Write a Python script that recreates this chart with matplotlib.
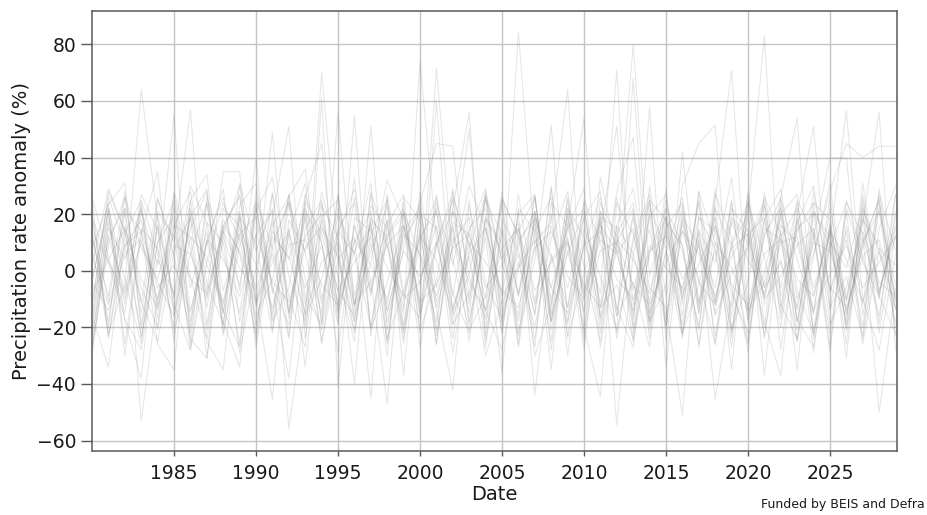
import matplotlib
matplotlib.use('Agg')
import matplotlib.pyplot as plt
import numpy as np

# years 1980..2029, one value per year for each ensemble member
years = np.arange(1980, 2030)

s01 = [8, -22, -5, 64, 18, -12, -28, 3, 24, 11,
       -16, -3, 27, -9, -19, 14, 6, 31, -24, -7,
       12, 21, -14, 5, -30, -11, 84.5, 9, -18, 22,
       2, -25, 16, 29, -6, -13, -51, 19, 8, -21,
       -4, 26, 13, -17, -27, 10, 1, 23, -8, 15]
s02 = [-12, 26, 9, -23, 4, -8, 30, 17, -14, -27,
       21, 33, -2, -18, 70, 7, -21, 13, 25, -10,
       -4, 16, -29, 8, 27, -15, 3, -20, 11, 28,
       -7, 19, -54.5, 6, 24, -19, 14, -3, -26, 9,
       20, 83, -12, -24, 5, 31, -16, 12, -9, -22]
s03 = [19, 3, -17, -28, 10, 25, -6, 14, -20, 31,
       7, 22, -56, -13, 18, -2, -25, 28, 9, -15,
       74, 11, -19, -8, 26, 4, 17, -30, -12, 20,
       -23, 33, 6, 15, -18, -5, 23, -27, 10, 1,
       -14, 18, 29, -7, -22, 8, 24, 13, -50, -6]
s04 = [-27, 12, 22, -53, -9, 16, 28, -4, -19, 20,
       -11, 6, -24, 25, 13, -7, -16, 3, 32, 18,
       -21, -3, 26, 9, -14, -28, 1, 21, -6, 15,
       29, -17, 8, 80, -2, 19, -23, 11, -45.5, -10,
       24, 5, -20, 17, 30, -8, 14, -26, 7, -13]
s05 = [2, 29, 14, -11, -25, 7, 19, -31, 12, -5,
       23, -18, -6, 27, 10, -29, 16, -3, -47, 21,
       -12, 71.5, 4, -21, -9, 25, 13, -16, 30, -24,
       -1, 17, -13, -27, 22, 8, -19, 14, 3, 33,
       -15, -4, 20, 27, -23, 11, 56.5, -10, -28, 6]
s06 = [-30, 15, 4, 22, -17, 27, -2, -24, 13, 30,
       -9, -45.5, 18, 7, 24, -14, 33, -21, -4, 16,
       -27, 9, 21, -12, 28, 3, -18, 14, 26, -30,
       11, -8, 71, -22, 6, 19, -10, 25, -16, -1,
       8, 23, -28, 15, 20, -13, -2, -23, 29, -11]
s07 = [14, -20, 26, 8, -3, 18, -28, 11, -15, 23,
       31, -6, -19, 20, -25, 4, 12, -45, 27, -8,
       -17, 24, 2, 30, 15, -22, 21, -44, 6, -13,
       19, 28, -16, -4, -27, 17, 9, -21, 25, 71,
       -14, -1, 26, -18, 13, -29, 22, 3, -9, 27]
s08 = [-16, 22, -3, -26, 25, 10, 57, -19, 15, -29,
       1, 27, -15, 12, 20, -12, 26, -9, 18, -24,
       14, -21, 29, -2, -17, 23, -27, 10, 17, 64,
       -20, -44.5, 24, 13, -11, 29, -22, -5, 19, -16,
       27, -12, 4, -25, 21, 9, -18, 31, -7, 12]
s09 = [11, -9, 28, -19, 16, -25, 21, 2, -12, 19,
       -27, 8, 25, -16, -3, 22, -18, 10, -30, 26,
       18, -14, -42, 23, -4, -17, 27, -11, 20, -23,
       15, -2, -21, 68, -15, 22, 9, -26, 16, -8,
       -22, 28, -9, 14, 24, -19, -6, 17, 56, -28]
s10 = [25, -24, 16, -6, -20, 24, -14, 9, 29, -18,
       13, 21, -9, -27, 61, -41, 19, 14, -12, 24,
       -22, 60, -16, -1, 26, -19, 11, 18, -28, 15,
       22, -13, -5, -24, 30, -9, 17, -15, 23, -21,
       10, 25, -17, 19, -6, 13, -26, 22, 7, -18]
s11 = [-20, 17, -12, 21, 2, 55, -26, 24, -7, 13,
       19, -17, 27, -3, -21, 9, -40, 23, 15, -13,
       25, -23, 10, 19, -27, 16, -9, 26, -18, 7,
       -15, 24, 12, -20, 58, -25, 18, -4, -12, 22,
       14, -24, 21, -14, 28, -7, 11, -20, 24, -10]
s12 = [-4, 24, -18, -38, 20, -10, 15, 28, -22, 9,
       24, -15, 13, 31, -19, 56, -12, 17, -26, 21,
       5, -18, 22, 56, -25, 14, -8, 19, -15, 26,
       -11, 18, -22, 10, 25, -17, 21, -12, 29, -6,
       -26, 15, 11, -21, 24, 18, -14, 8, 26, -23]
s13 = [-13, 28, 14, -24, 10, 19, -20, 26, 6, -15,
       22, -6, -38, 15, 25, -18, 55, -23, 12, 20,
       -14, 27, -8, -22, 18, 10, -26, 21, -10, 16,
       54, -19, 13, 24, -15, 7, -24, 28, -11, 19,
       12, -9, 23, -18, 15, -27, 25, 5, -16, 21]
s14 = [18, -11, 22, 14, -26, -35, 25, -13, 18, 6,
       -23, 28, -14, 21, 10, -19, 16, -8, 26, -37,
       23, -11, 15, -25, 19, 7, -16, 27, -21, 12,
       -28, 21, 9, -15, 25, 18, -22, 11, -6, 24,
       -17, 12, 26, 54, -24, 15, -10, 21, -19, 27]
s15 = [-23, 12, -7, 24, -14, 28, 8, -21, 16, 26,
       -11, 19, 51, -24, 15, 5, -18, 27, -15, 11,
       21, -26, 17, 13, -10, 25, -22, 4, 51.5, -18,
       9, 26, -14, 19, -21, 15, 24, -11, 7, -27,
       22, -37, 16, 10, -15, 26, -21, 18, 9, -13]
s16 = [13, -18, 21, -11, 26, 5, -22, 17, 10, -26,
       28, -8, 15, -20, 23, 12, -15, 51, -21, 16,
       -5, 22, -24, 14, 29, -18, 9, 21, -12, 25,
       -25, 16, 7, -17, 19, 27, -12, 15, -23, 10,
       24, -18, -37, 20, 51, -14, 21, -24, 15, 30]
s17 = [-18, 22, -26, 15, 8, -14, 19, 29, -23, 13,
       -6, 49, -17, 24, -12, 20, 6, -20, 16, 27,
       -15, 10, 25, -18, 12, -36, 22, 14, -25, 19,
       -8, 13, 51, -12, 20, -20, 30, 45, 51.5, -22,
       13, 19, -15, 24, -9, 16, -21, 10, 25, -14]
s18 = [26, 5, -15, 23, -21, 16, 12, -25, -35, 19,
       10, -22, 24, 6, -15, 27, -9, 17, -25, 14,
       22, -13, 8, 50, -20, 26, 12, -24, 16, -6,
       19, -27, 10, 22, -17, 6, 26, -15, 19, -35,
       25, -10, 14, -35, 21, 12, -19, 27, -8, 16]
s19 = [-16, -34, 13, 25, 6, -20, 22, -9, 15, 27,
       -13, 18, -23, 26, 45, -15, 10, 21, -18, 8,
       24, 45, 44, -10, 19, -22, 14, 26, -16, 6,
       21, -12, 28, 47, -19, 13, -7, 24, -26, 18,
       10, -20, 25, 4, -15, 22, -10, 19, -22, 13]
s20 = [-25, 19, -10, 27, 14, -22, 6, 24, -18, -34,
       25, 8, -15, 19, -26, 13, 29, -7, 18, -21,
       10, 26, -19, 15, 22, -12, 6, -27, 24, 16,
       -9, 21, -24, 12, 27, -34, 19, 9, -15, 25,
       -18, 13, 22, -10, 6, 28, 45, 40, 44, 44]
s21 = [20, -23, 9, 18, -12, 22, -18, 11, 26, -7,
       40, -21, 13, -34, 19, 25, -12, 7, 23, -19,
       15, -26, 21, 10, -14, 28, -9, 17, -35, 22,
       12, -16, 26, -7, 15, -21, 42, -13, 22, 9,
       -25, 18, -6, 25, 13, -22, 16, -12, 27, 7]
s22 = [-28, 9, 26, -15, 21, 12, -24, -31, 22, 16,
       -19, 10, 24, -12, 28, 4, -22, 18, 12, -26,
       20, 15, -9, 25, -23, 18, 7, -15, 29, -13,
       24, -22, 16, 6, -18, 25, -10, 19, 14, -24,
       28, -6, 19, -25, 12, 40, 40, -16, 22, -20]
s23 = [8, 23.5, 31, -21, 16, -9, 25, 34, -15, 21,
       -25, 14, 4, 22, -18, 27, -13, 19, 9, -22,
       28, -6, 16, -15, 25, 13, -23, 19, 5, -19,
       25, 10, -16, 21, -24, 19, 7, -20, 27, 12,
       -29, 24, -13, 18, -21, 15, -31, 25, -10, 19]
s24 = [-3, 21, -30, 13, 35, -16, 19, -7, 35, 35,
       -22, 16, 26, 36, -10, 15, 24, -20, 13, 22,
       -16, 9, 28, -19, 15, -8, 20, 27, -18, 10,
       -21, 19, 15, -25, 7, 22, -16, 28, 10, -13,
       19, -23, 12, 22, -29, 17, -15, 10, 21, -5]
s25 = [5, -12, 9, 14, -6, 2, -15, 11, 4, -9,
       13, -4, -11, 8, 16, -7, 3, 12, -14, 7,
       -2, 10, -13, 6, 15, -9, 1, 11, -6, -15,
       9, 14, -3, -10, 7, 12, -8, 2, 16, -5,
       -12, 6, 11, -3, -9, 14, 4, -11, 8, 2]
s26 = [-8, 4, 15, -3, -13, 9, 6, -10, 14, 1,
       -7, 12, 5, -15, 3, 10, -12, -4, 9, 16,
       -11, -5, 8, 13, -6, 2, 15, -12, 4, 11,
       -14, 7, 10, -5, -12, 3, 14, 6, -9, 8,
       13, -10, -2, 9, 15, -6, -13, 5, 11, -8]
s27 = [14, 3, -8, 10, -4, -16, 12, 5, -11, 15,
       2, -13, 9, 11, -5, -12, 7, 15, 1, -9,
       12, 4, -15, 10, 3, -7, -13, 8, 14, -2,
       -10, 11, 6, -14, 9, 1, -6, 13, -11, 17,
       4, -8, 10, 12, -14, -1, 9, -6, 3, 12]
s28 = [-4, -14, 6, 11, -10, 13, -3, -8, 16, 7,
       -12, 3, 14, -6, 9, -15, 11, 2, -10, 13,
       6, -9, 12, -4, -14, 8, 15, -7, 3, 10,
       -5, -13, 11, 4, -8, 14, -3, 9, -12, 5,
       15, -6, 3, -13, 10, 7, -11, 14, -4, -9]

members = [s01, s02, s03, s04, s05, s06, s07, s08, s09, s10, s11, s12, s13, s14,
           s15, s16, s17, s18, s19, s20, s21, s22, s23, s24, s25, s26, s27, s28]

yticks = [-60, -40, -20, 0, 20, 40, 60, 80]
xticks = [1985, 1990, 1995, 2000, 2005, 2010, 2015, 2020, 2025]

fig = plt.figure(figsize=(9.27, 5.15), dpi=100)
ax = fig.add_axes([0.0993, 0.1243, 0.868, 0.8543])

for s in members:
    ax.plot(years, s, color='grey', alpha=0.2, lw=0.75, zorder=3)

ax.set_xlim(1980, 2029.07)
ax.set_ylim(-63.7, 91.8)
ax.set_xticks(xticks)
ax.set_yticks(yticks)
ax.grid(True, color='#c4c4c4', lw=1.0, zorder=1)
ax.set_axisbelow(True)

for sp in ax.spines.values():
    sp.set_color('#5a5a5a')
    sp.set_linewidth(1.1)

ax.tick_params(axis='y', length=8, width=1, color='#5a5a5a', pad=3.5,
               labelsize=13.5, labelcolor='#1a1a1a')
ax.tick_params(axis='x', length=3.5, width=1, color='#5a5a5a', pad=6,
               labelsize=13.5, labelcolor='#1a1a1a')

ax.set_xlabel('Date', fontsize=14, color='#1a1a1a', labelpad=1)
ax.set_ylabel('Precipitation rate anomaly (%)', fontsize=14, color='#1a1a1a', labelpad=4)

fig.text(0.998, 0.008, 'Funded by BEIS and Defra', ha='right', va='bottom',
         fontsize=9, color='#1a1a1a')

fig.savefig('out.png', dpi=100, facecolor='white')
